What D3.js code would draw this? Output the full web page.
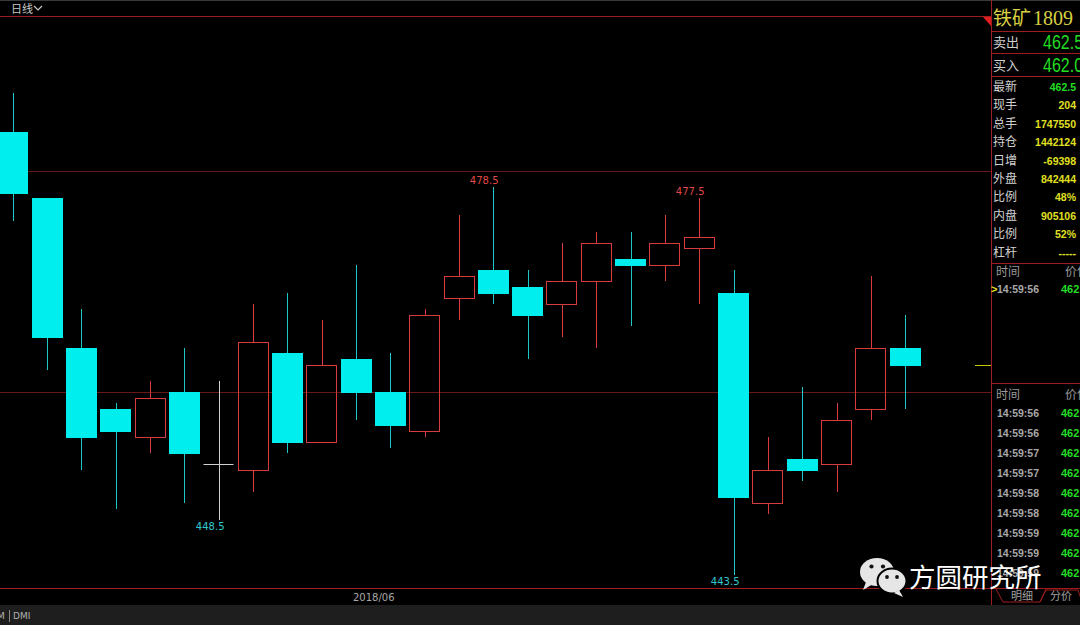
<!DOCTYPE html>
<html><head><meta charset="utf-8">
<script src="https://cdn.jsdelivr.net/npm/d3@7"></script>
<style>html,body{margin:0;padding:0;background:#000;overflow:hidden}</style>
</head><body><svg id="c" width="1080" height="625"></svg>
<script>
// ---------- data ----------
const dates = ["2018-05-18","2018-05-21","2018-05-22","2018-05-23","2018-05-24","2018-05-25","2018-05-28","2018-05-29","2018-05-30","2018-05-31",
  "2018-06-01","2018-06-04","2018-06-05","2018-06-06","2018-06-07","2018-06-08","2018-06-11","2018-06-12","2018-06-13","2018-06-14",
  "2018-06-15","2018-06-19","2018-06-20","2018-06-21","2018-06-22","2018-06-25","2018-06-26"];
const opens  = [483.5,477.5,464,458.5,456,460,453.5,453,463.5,455.5, 463,460,456.5,468.5,471,469.5,468,470,472,471.5, 473,469,450,454,453.5,458.5,464];
const highs  = [487,477.5,467.5,459,461,464,461,468,469,466.5, 471.5,463.5,467.5,476,478.5,471,473.5,474.5,474.5,476, 477.5,471,456,460.5,459,470.5,467];
const lows   = [475.5,462,453,449.5,454.5,450,448.5,451,454.5,455.5, 457.5,455,456,466.5,468,463,465,464,466,470, 468,443.5,449,452,451,457.5,458.5];
const closes = [478,465,456,456.5,459.5,454.5,453.5,464.5,455.5,462.5, 460,457,467,470.5,469,467,470,473.5,471.5,473.5, 474,450.5,453,453,457.5,464,462.5];
const gridValues = [480, 460];
const xTickDates = ["2018-06-01"];
const xTickLabels = ["2018/06"];
const markDates  = ["2018-06-07","2018-06-15","2018-05-28","2018-06-19"];
const markValues = [478.5, 477.5, 448.5, 443.5];
const markKinds  = ["high","high","low","low"];
const lastPrice = 462.5;

const quoteTitleName = "铁矿";
const quoteTitleCode = "1809";
const bidAskLabels = ["卖出","买入"];
const bidAskValues = ["462.5","462.0"];
const statLabels = ["最新","现手","总手","持仓","日增","外盘","比例","内盘","比例","杠杆"];
const statValues = ["462.5","204","1747550","1442124","-69398","842444","48%","905106","52%","-----"];
const tickTimesA  = ["14:59:56"];
const tickPricesA = ["462"];
const tickTimesB  = ["14:59:56","14:59:56","14:59:57","14:59:57","14:59:58","14:59:58","14:59:59","14:59:59","14:59:59"];
const tickPricesB = ["462","462","462","462","462","462","462","462","462"];
const tabLabels = ["明细","分价"];
const watermark = "方圆研究所";

// ---------- styles ----------
const UP = "#d83c3c", DOWN = "#00eeee", DOWNWICK = "#1cc8c8", DOJI = "#d0d0d0";
const GRID = "#661818", BORDER = "#a01c1c";
const FONT = "'DejaVu Sans', sans-serif";
const CJK = "'Noto Sans CJK SC', sans-serif";
const NUM = "'Liberation Sans', Arial, sans-serif";

const svg = d3.select("#c");
svg.append("rect").attr("width",1080).attr("height",625).attr("fill","#000");

const mainW = 991, mainTop = 17, mainBottom = 588;
svg.append("defs").append("clipPath").attr("id","mainClip")
  .append("rect").attr("x",0).attr("y",mainTop).attr("width",mainW).attr("height",mainBottom-mainTop);

const x = d3.scaleBand().domain(dates).range([-6.2, 924.1]).paddingInner(0.1).paddingOuter(0.1);
const y = d3.scaleLinear().domain([443.5, 478.5]).range([575, 187.3]);
const bw = x.bandwidth();
const cxOf = d => Math.round(x(d) + bw/2) + 0.5;

// header
svg.append("rect").attr("x",0).attr("y",0).attr("width",1080).attr("height",1).attr("fill","#3a3a3a");
svg.append("text").attr("x",11).attr("y",13).attr("fill","#c8c8c8").attr("font-size",11).attr("font-family",CJK).text("日线");
svg.append("path").attr("d","M34,6 L38,10 L42,6").attr("stroke","#c8c8c8").attr("fill","none").attr("stroke-width",1.2);

// grid
const main = svg.append("g").attr("clip-path","url(#mainClip)");
main.selectAll("line.grid").data(gridValues).join("line").attr("class","grid")
  .attr("x1",0).attr("x2",mainW).attr("y1",d=>Math.round(y(d))+0.5).attr("y2",d=>Math.round(y(d))+0.5)
  .attr("stroke",GRID).attr("stroke-width",1);

// candles
const candles = dates.map((d,i)=>({d, o:opens[i], h:highs[i], l:lows[i], c:closes[i]}));
const cg = main.selectAll("g.candle").data(candles).join("g").attr("class","candle");
cg.each(function(k){
  const g = d3.select(this);
  const cx = cxOf(k.d);
  const left = Math.round(x(k.d)) + 0.5;
  const w = Math.round(bw) - 1;
  const yTop = Math.round(y(Math.max(k.o,k.c))) + 0.5;
  const yBot = Math.round(y(Math.min(k.o,k.c))) + 0.5;
  const yH = Math.round(y(k.h)), yL = Math.round(y(k.l));
  if (k.c > k.o) {
    if (yH < yTop) g.append("line").attr("x1",cx).attr("x2",cx).attr("y1",yH).attr("y2",yTop).attr("stroke",UP);
    if (yL > yBot) g.append("line").attr("x1",cx).attr("x2",cx).attr("y1",yBot).attr("y2",yL).attr("stroke",UP);
    g.append("rect").attr("x",left).attr("y",yTop).attr("width",w).attr("height",yBot-yTop)
      .attr("fill","none").attr("stroke",UP).attr("stroke-width",1);
  } else if (k.c < k.o) {
    g.append("line").attr("x1",cx).attr("x2",cx).attr("y1",yH).attr("y2",yL).attr("stroke",DOWNWICK);
    g.append("rect").attr("x",left-0.5).attr("y",yTop-0.5).attr("width",w+1).attr("height",yBot-yTop+1).attr("fill",DOWN);
  } else {
    g.append("line").attr("x1",cx).attr("x2",cx).attr("y1",yH).attr("y2",yL).attr("stroke",DOJI);
    g.append("line").attr("x1",left).attr("x2",left+w).attr("y1",yTop).attr("y2",yTop).attr("stroke",DOJI);
  }
});

// max / min labels
main.selectAll("text.mark").data(markDates.map((d,i)=>({d, v:markValues[i], k:markKinds[i]}))).join("text")
  .attr("class","mark")
  .attr("x",m=>cxOf(m.d)+5).attr("y",m=>m.k==="high" ? y(m.v)-3 : y(m.v)+10)
  .attr("text-anchor","end").attr("font-size",10).attr("font-family",FONT)
  .attr("fill",m=>m.k==="high" ? "#e04848" : "#30c8d0")
  .text(m=>m.v.toFixed(1));

// last price marker
svg.append("line").attr("x1",975).attr("x2",991).attr("y1",Math.round(y(lastPrice))+0.5).attr("y2",Math.round(y(lastPrice))+0.5)
  .attr("stroke","#c8c800");

// borders
svg.append("line").attr("x1",0).attr("x2",mainW).attr("y1",16.5).attr("y2",16.5).attr("stroke",BORDER);
svg.append("path").attr("d","M983,17 L991,17 L991,26 Z").attr("fill","#e02020");
svg.append("line").attr("x1",0).attr("x2",1080).attr("y1",588.5).attr("y2",588.5).attr("stroke",BORDER);
svg.append("line").attr("x1",991.5).attr("x2",991.5).attr("y1",0).attr("y2",605).attr("stroke",BORDER);

// x axis
const xAxis = d3.axisBottom(x).tickValues(xTickDates).tickFormat((d,i)=>xTickLabels[i]).tickSize(0);
const ax = svg.append("g").attr("transform",`translate(0,${mainBottom})`).call(xAxis);
ax.select(".domain").remove();
ax.selectAll("text").attr("fill","#a8a8a8").attr("font-size",10).attr("font-family",FONT)
  .attr("text-anchor","start").attr("x",-3).attr("y",6);

// bottom toolbar
svg.append("rect").attr("x",0).attr("y",605).attr("width",1080).attr("height",20).attr("fill","#1e1e1e");
svg.append("text").attr("x",-3).attr("y",619).attr("fill","#b0b0b0").attr("font-size",9).attr("font-family",FONT).text("M");
svg.append("line").attr("x1",9.5).attr("x2",9.5).attr("y1",610).attr("y2",622).attr("stroke","#888");
svg.append("text").attr("x",13).attr("y",619).attr("fill","#b0b0b0").attr("font-size",9).attr("font-family",FONT).text("DMI");

// ---------- right panel ----------
const rp = svg.append("g");
[31.5, 53.5, 76.5, 263.5, 383.5].forEach(v=>{
  rp.append("line").attr("x1",991).attr("x2",1080).attr("y1",v).attr("y2",v).attr("stroke",BORDER);
});
const title = rp.append("text").attr("x",993).attr("y",25).attr("fill","#d8d040").attr("font-size",19);
title.append("tspan").attr("font-family",CJK).text(quoteTitleName);
title.append("tspan").attr("font-family","'Liberation Serif', serif").attr("dx",2).attr("font-size",20).text(quoteTitleCode);

bidAskLabels.forEach((l,i)=>{
  rp.append("text").attr("x",993).attr("y",47+i*23).attr("fill","#d0d0d0").attr("font-size",13).attr("font-family",CJK).text(l);
  rp.append("text").attr("transform",`translate(1043,${49+i*23}) scale(0.8,1)`).attr("fill","#22dd22")
    .attr("font-size",20).attr("font-family",NUM).text(bidAskValues[i]);
});
statLabels.forEach((l,i)=>{
  const by = 91 + i*18.4;
  rp.append("text").attr("x",993).attr("y",by).attr("fill","#d0d0d0").attr("font-size",12).attr("font-family",CJK).text(l);
  rp.append("text").attr("x",1076).attr("y",by).attr("text-anchor","end").attr("fill", i===0 ? "#22dd22" : "#e0e020")
    .attr("font-size",10.5).attr("font-weight","bold").attr("font-family",NUM).text(statValues[i]);
});
function tickHeader(by){
  rp.append("text").attr("x",996).attr("y",by).attr("fill","#9a9a9a").attr("font-size",12).attr("font-family",CJK).text("时间");
  rp.append("text").attr("x",1065).attr("y",by).attr("fill","#9a9a9a").attr("font-size",12).attr("font-family",CJK).text("价位");
}
tickHeader(276);
tickTimesA.forEach((t,i)=>{
  const by = 292.5 + i*20;
  rp.append("text").attr("x",991).attr("y",by).attr("fill","#e0e020").attr("font-size",11).attr("font-weight","bold").attr("font-family",NUM).text(">");
  rp.append("text").attr("x",997).attr("y",by).attr("fill","#a8a8a8").attr("font-size",10.5).attr("font-weight","bold").attr("font-family",NUM).text(t);
  rp.append("text").attr("x",1061).attr("y",by).attr("fill","#22dd22").attr("font-size",11).attr("font-weight","bold").attr("font-family",NUM).text(tickPricesA[i]);
});
tickHeader(398.5);
tickTimesB.forEach((t,i)=>{
  const by = 417 + i*20;
  rp.append("text").attr("x",997).attr("y",by).attr("fill","#a8a8a8").attr("font-size",10.5).attr("font-weight","bold").attr("font-family",NUM).text(t);
  rp.append("text").attr("x",1061).attr("y",by).attr("fill","#22dd22").attr("font-size",11).attr("font-weight","bold").attr("font-family",NUM).text(tickPricesB[i]);
});
// tabs
rp.append("path").attr("d","M996,589 L1003,602 L1040,602 L1046,589").attr("fill","none").attr("stroke",BORDER);
rp.append("path").attr("d","M1040,602 L1046,590 L1078,590 L1082,602").attr("fill","none").attr("stroke",BORDER);
tabLabels.forEach((t,i)=>{
  rp.append("text").attr("x",1011+i*39).attr("y",600).attr("fill","#a0a0a0").attr("font-size",11).attr("font-family",CJK).text(t);
});

// ---------- watermark ----------
const wm = svg.append("g");
wm.append("ellipse").attr("cx",877).attr("cy",572).attr("rx",17).attr("ry",14).attr("fill","#e6e6e6");
wm.append("path").attr("d","M866,582 L863,590 L873,584 Z").attr("fill","#e6e6e6");
wm.append("ellipse").attr("cx",892).attr("cy",581).attr("rx",14.5).attr("ry",12.5).attr("fill","#e6e6e6").attr("stroke","#000").attr("stroke-width",2);
wm.append("path").attr("d","M899,590 L903,597 L894,593 Z").attr("fill","#e6e6e6");
[[871.5,566.5,2.1],[883,566.5,2.1],[887,577,1.9],[897,577,1.9]].forEach(e=>{
  wm.append("circle").attr("cx",e[0]).attr("cy",e[1]).attr("r",e[2]).attr("fill","#111");
});
wm.append("text").attr("x",909).attr("y",587).attr("fill","#ffffff").attr("font-size",26.5).attr("font-family",CJK).text(watermark);
</script>
</body></html>
